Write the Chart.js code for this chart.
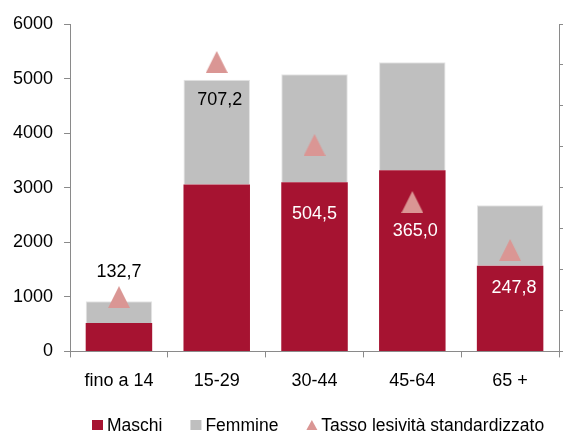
<!DOCTYPE html>
<html>
<head>
<meta charset="utf-8">
<script src="https://cdn.jsdelivr.net/npm/chart.js@4"></script>
<style>
  html, body { margin: 0; padding: 0; background: #fff; }
  #wrap { width: 564px; height: 437px; }
</style>
</head>
<body>
<div id="wrap"><canvas id="chart" width="564" height="437"></canvas></div>
<script>
// Age groups and values
const categories = ["fino a 14", "15-29", "30-44", "45-64", "65 +"];
const maschi = [520, 3060, 3100, 3320, 1570];
const femmine = [400, 1920, 1980, 1980, 1110];
const tasso = [132.7, 707.2, 504.5, 365.0, 247.8];
const leftTicks = [0, 1000, 2000, 3000, 4000, 5000, 6000];

const FONT = "'Liberation Sans', Arial, sans-serif";
const AXIS_COLOR = '#8a8a8a';
const triColor = '#da9694';

// triangle image centred on the point (Excel style)
function makeTriangle(size, color) {
  const c = document.createElement('canvas');
  c.width = size; c.height = size;
  const g = c.getContext('2d');
  g.fillStyle = color;
  g.beginPath();
  g.moveTo(size / 2, 0);
  g.lineTo(size, size);
  g.lineTo(0, size);
  g.closePath();
  g.fill();
  return c;
}
const triImg = makeTriangle(22, triColor);

// labels for the triangle series, placed like in the original
const labelPlugin = {
  id: 'tassoLabels',
  afterDatasetsDraw(chart) {
    const meta = chart.getDatasetMeta(2);
    const ctx = chart.ctx;
    const dx = [0, 3, 0, 3, 4];
    const dy = [-25, 38, 69, 29, 38];
    const colors = ['#000', '#000', '#fff', '#fff', '#fff'];
    ctx.save();
    ctx.font = '18px ' + FONT;
    ctx.textAlign = 'center';
    ctx.textBaseline = 'middle';
    meta.data.forEach((pt, i) => {
      ctx.fillStyle = colors[i];
      ctx.fillText(tasso[i].toFixed(1).replace('.', ','), pt.x + dx[i], pt.y + dy[i]);
    });
    ctx.restore();
  }
};

// legend drawn by hand: small square / triangle, tight gap before the text
const legendPlugin = {
  id: 'bottomLegend',
  afterDraw(chart) {
    const ctx = chart.ctx;
    const y = 425;
    let x = 92;
    ctx.save();
    ctx.font = '17.5px ' + FONT;
    ctx.textBaseline = 'middle';
    ctx.textAlign = 'left';
    chart.data.datasets.forEach((ds, i) => {
      ctx.fillStyle = ds.backgroundColor;
      if (i < 2) {
        ctx.fillRect(x, y - 5, 11, 10);
      } else {
        ctx.beginPath();
        ctx.moveTo(x + 5.5, y - 5);
        ctx.lineTo(x + 11, y + 5);
        ctx.lineTo(x, y + 5);
        ctx.closePath();
        ctx.fill();
      }
      ctx.fillStyle = '#000';
      ctx.fillText(ds.label, x + 15, y + 1);
      x += 15 + ctx.measureText(ds.label).width + 28;
    });
    ctx.restore();
  }
};

const ctx = document.getElementById('chart').getContext('2d');
new Chart(ctx, {
  type: 'bar',
  data: {
    labels: categories,
    datasets: [
      {
        label: 'Maschi',
        data: maschi,
        backgroundColor: '#a61331',
        stack: 's',
        yAxisID: 'y',
        order: 2
      },
      {
        label: 'Femmine',
        data: femmine,
        backgroundColor: '#bfbfbf',
        borderColor: '#e4e4e4',
        borderWidth: { top: 1, left: 1, right: 1, bottom: 0 },
        stack: 's',
        yAxisID: 'y',
        order: 2
      },
      {
        type: 'line',
        label: 'Tasso lesività standardizzato',
        data: tasso,
        showLine: false,
        pointStyle: triImg,
        backgroundColor: triColor,
        borderColor: triColor,
        yAxisID: 'y1',
        order: 1
      }
    ]
  },
  options: {
    responsive: false,
    animation: false,
    devicePixelRatio: 1,
    layout: { padding: { left: 2, right: 0, top: 24, bottom: 32 } },
    datasets: { bar: { barPercentage: 0.68, categoryPercentage: 1 } },
    plugins: {
      tooltip: { enabled: false },
      legend: { display: false }
    },
    scales: {
      x: {
        stacked: true,
        grid: {
          offset: true,
          drawOnChartArea: false,
          tickLength: 6,
          color: AXIS_COLOR
        },
        border: { color: AXIS_COLOR, width: 1 },
        ticks: { color: '#000', font: { family: FONT, size: 18 }, padding: 13 }
      },
      y: {
        stacked: true,
        min: 0,
        max: 6000,
        afterBuildTicks(axis) { axis.ticks = leftTicks.map(v => ({ value: v })); },
        grid: { drawOnChartArea: false, tickLength: 6, color: AXIS_COLOR },
        border: { color: AXIS_COLOR, width: 1 },
        ticks: {
          color: '#000',
          font: { family: FONT, size: 18 },
          padding: 11,
          callback: v => String(v)
        }
      },
      y1: {
        position: 'right',
        min: 0,
        max: 800,
        ticks: { display: false, stepSize: 100 },
        grid: { drawOnChartArea: false, tickLength: 4, color: AXIS_COLOR },
        border: { color: AXIS_COLOR, width: 1 }
      }
    }
  },
  plugins: [labelPlugin, legendPlugin]
});
</script>
</body>
</html>
